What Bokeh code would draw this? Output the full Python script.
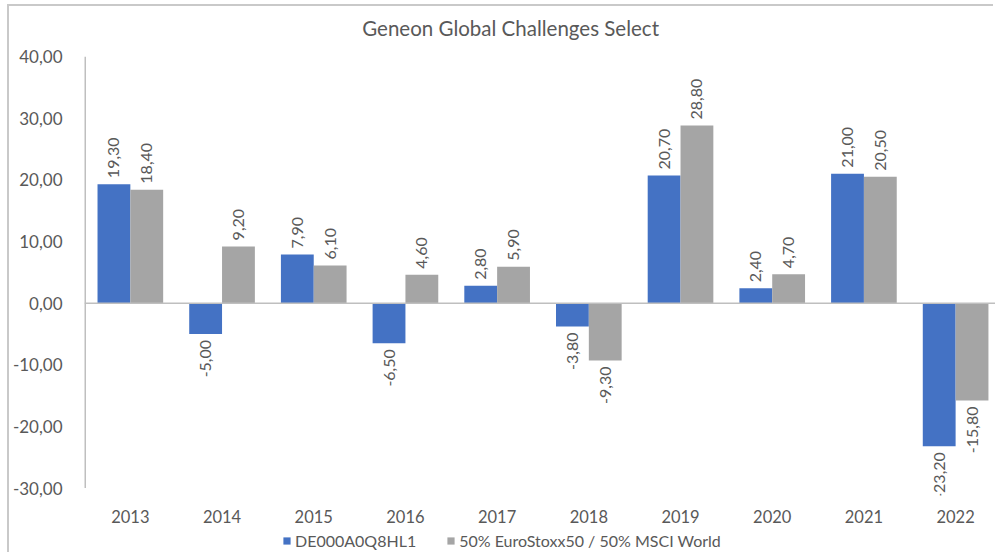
import math
from bokeh.plotting import figure
from bokeh.layouts import column
from bokeh.models import ColumnDataSource, FixedTicker, Span, Legend, LegendItem, Label
from bokeh.transform import dodge
from bokeh.embed import file_html
from bokeh.resources import INLINE
from bokeh.core.properties import value

# ---- data ----
years = ["2013", "2014", "2015", "2016", "2017", "2018", "2019", "2020", "2021", "2022"]
fund = [19.30, -5.00, 7.90, -6.50, 2.80, -3.80, 20.70, 2.40, 21.00, -23.20]
bench = [18.40, 9.20, 6.10, 4.60, 5.90, -9.30, 28.80, 4.70, 20.50, -15.80]
series_names = ["DE000A0Q8HL1", "50% EuroStoxx50 / 50% MSCI World"]
y_ticks = [-30, -20, -10, 0, 10, 20, 30, 40]
title_text = "Geneon Global Challenges Select"

BLUE = "#4472C4"
GRAY = "#A5A5A5"
TXT = "#595959"
LINE = "#BFBFBF"
FONT = "Lato"


def fmt(v):
    return f"{v:.2f}".replace(".", ",")


W = 986
LEFT = 71
FW = W - LEFT
HT, HM, HL = 40, 480, 28

xs = list(range(len(years)))
src = ColumnDataSource(dict(x=xs, fund=fund, bench=bench))


def bare(h):
    f = figure(width=W, height=h, x_range=(0, FW), y_range=(0, h),
               output_backend="svg", toolbar_location=None,
               x_axis_location=None, y_axis_location=None,
               min_border_left=LEFT, min_border_right=0,
               min_border_top=0, min_border_bottom=0)
    f.outline_line_color = None
    f.grid.visible = False
    f.background_fill_color = "white"
    f.border_fill_color = "white"
    return f


# ---- title strip ----
t = bare(HT)
t.add_layout(Label(x=428, y=19, text=title_text, text_align="center",
                   text_baseline="middle", text_font=FONT,
                   text_font_size="20.5px", text_color=TXT))

# ---- main chart ----
X0 = -0.5
p = figure(width=W, height=HM, output_backend="svg", toolbar_location=None,
           x_range=(X0, 9.435), y_range=(-31.2, 40),
           min_border_left=LEFT, min_border_right=0, min_border_top=10,
           min_border_bottom=31)
p.outline_line_color = None
p.grid.visible = False
p.background_fill_color = "white"
p.border_fill_color = "white"

bw = 0.358
r1 = p.vbar(x=dodge("x", -bw / 2, range=p.x_range), top="fund", width=bw,
            source=src, fill_color=BLUE, line_color=None)
r2 = p.vbar(x=dodge("x", bw / 2, range=p.x_range), top="bench", width=bw,
            source=src, fill_color=GRAY, line_color=None)

p.add_layout(Span(location=0, dimension="width", line_color=LINE, line_width=1.5))
# value axis line, from lowest to highest tick
p.segment(x0=[X0], y0=[min(y_ticks)], x1=[X0], y1=[max(y_ticks)],
          line_color=LINE, line_width=3)

# data labels
for vals, off in ((fund, -bw / 2), (bench, bw / 2)):
    pos = [(i + off, v, fmt(v)) for i, v in enumerate(vals) if v >= 0]
    neg = [(i + off, v, fmt(v)) for i, v in enumerate(vals) if v < 0]
    for grp, align, yoff in ((pos, "left", -6), (neg, "right", 6)):
        if not grp:
            continue
        s = ColumnDataSource(dict(x=[g[0] for g in grp], y=[g[1] for g in grp],
                                  t=[g[2] for g in grp]))
        p.text(x="x", y="y", text="t", source=s, angle=math.pi / 2,
               text_align=align, text_baseline="middle", y_offset=yoff,
               text_font=value(FONT), text_font_size="16px", text_color=TXT)

p.yaxis.ticker = FixedTicker(ticks=y_ticks)
p.yaxis.major_label_overrides = {t_: fmt(t_) for t_ in y_ticks}
p.yaxis.axis_line_color = None
p.yaxis.major_tick_line_color = None
p.yaxis.minor_tick_line_color = None
p.yaxis.major_label_standoff = 16
p.yaxis.major_label_text_font = FONT
p.yaxis.major_label_text_font_size = "17px"
p.yaxis.major_label_text_color = TXT

p.xaxis.ticker = FixedTicker(ticks=xs)
p.xaxis.major_label_overrides = {i: y for i, y in zip(xs, years)}
p.xaxis.axis_line_color = None
p.xaxis.major_tick_line_color = None
p.xaxis.minor_tick_line_color = None
p.xaxis.major_label_standoff = 8
p.xaxis.major_label_text_font = FONT
p.xaxis.major_label_text_font_size = "16.5px"
p.xaxis.major_label_text_color = TXT

# ---- legend strip (proxy renderers, hidden) ----
lf = bare(HL)
g1 = lf.vbar(x="x", top="fund", width=0.5, source=src, fill_color=BLUE,
             line_color=None, visible=False)
g2 = lf.vbar(x="x", top="bench", width=0.5, source=src, fill_color=GRAY,
             line_color=None, visible=False)
legend = Legend(items=[LegendItem(label=series_names[0], renderers=[g1]),
                       LegendItem(label=series_names[1], renderers=[g2])],
                orientation="horizontal", location=(198, 4),
                glyph_width=9, glyph_height=9, label_standoff=4, spacing=30,
                padding=0, margin=0, label_height=16,
                label_text_font=FONT, label_text_font_size="16px",
                label_text_color=TXT, background_fill_alpha=0,
                border_line_color=None, inactive_fill_alpha=0)
lf.add_layout(legend, "center")

lay = column(t, p, lf, spacing=0)
lay.styles = {"margin-left": "9px", "margin-top": "6px",
              "box-shadow": "-2px -2px 0px 0px #C9C9C9"}

open("out.html", "w").write(file_html(lay, INLINE))
